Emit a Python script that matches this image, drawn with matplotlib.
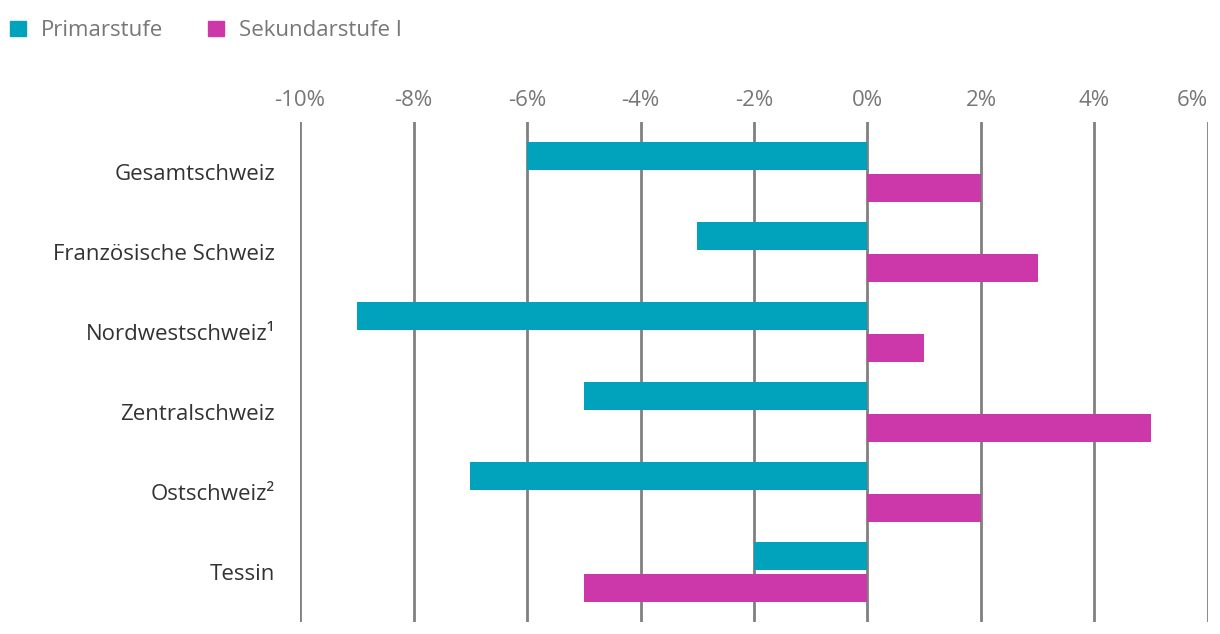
import numpy as np
import matplotlib.pyplot as plt
from matplotlib.patches import Patch

plt.rcParams['font.family'] = ['Open Sans', 'DejaVu Sans']

# Daten
regionen = ['Gesamtschweiz', 'Französische Schweiz', 'Nordwestschweiz¹',
            'Zentralschweiz', 'Ostschweiz²', 'Tessin']
primar = [-6, -3, -9, -5, -7, -2]
sekundar = [2, 3, 1, 5, 2, -5]
xticks = [-10, -8, -6, -4, -2, 0, 2, 4, 6]

FARBE_PRIMAR = '#00a3bb'
FARBE_SEK = '#cc37aa'
GRAU = '#777777'
FS = 16

fig = plt.figure(figsize=(12.2, 6.34), dpi=100)
W, H = 1220, 634
ax = fig.add_axes([300 / W, 1 - 622 / H, (1208 - 300) / W, (622 - 122) / H])

y = np.arange(len(regionen))
h = 0.35
ax.barh(y - 0.2, primar, height=h, color=FARBE_PRIMAR, zorder=3)
ax.barh(y + 0.2, sekundar, height=h, color=FARBE_SEK, zorder=3)

ax.set_xlim(-10, 6)
ax.set_ylim(len(regionen) - 0.375, -0.625)
ax.set_xticks(xticks)
ax.set_xticklabels([f'{t}%' for t in xticks])
ax.xaxis.tick_top()
ax.tick_params(axis='x', length=0, pad=8, labelsize=FS, labelcolor=GRAU)
ax.get_xticklabels()[-1].set_horizontalalignment('right')
ax.set_yticks(y)
ax.set_yticklabels(regionen)
ax.tick_params(axis='y', length=0, pad=18, labelsize=FS, labelcolor='#333333')
for s in ax.spines.values():
    s.set_visible(False)
for t in xticks:
    ax.axvline(t, color='#808080', lw=2, zorder=2)

# Legende oben links
handles = [Patch(color=FARBE_PRIMAR, label='Primarstufe'),
           Patch(color=FARBE_SEK, label='Sekundarstufe I')]
fig.legend(handles=handles, loc='upper left', bbox_to_anchor=(-2 / W, 1 - 8 / H),
           ncol=2, frameon=False, fontsize=FS, labelcolor=GRAU,
           handlelength=0.7, handleheight=0.7, handletextpad=0.7,
           columnspacing=2.0, borderaxespad=0.0, borderpad=0.55)

fig.savefig('out.png', dpi=100)
